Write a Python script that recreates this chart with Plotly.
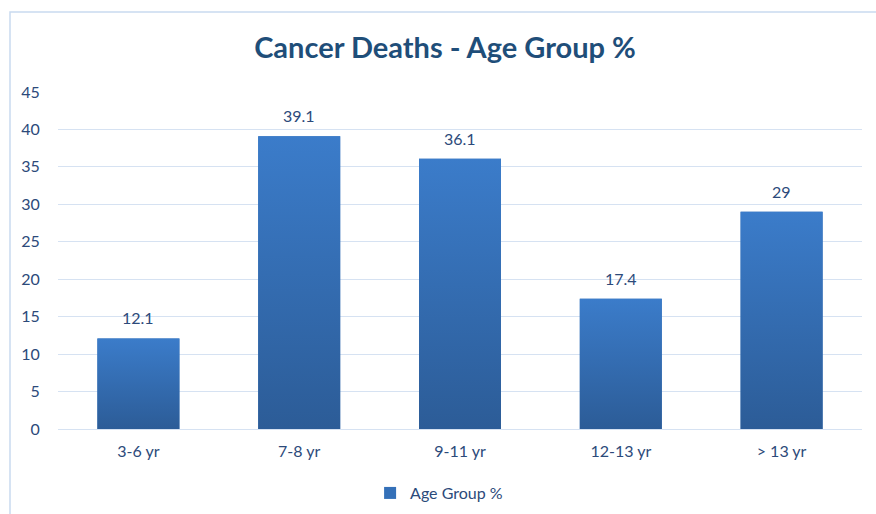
import plotly.graph_objects as go

categories = ["3-6 yr", "7-8 yr", "9-11 yr", "12-13 yr", "> 13 yr"]
values = [12.1, 39.1, 36.1, 17.4, 29]
tick_vals = [0, 5, 10, 15, 20, 25, 30, 35, 40, 45]

TXT = "#2c4a7a"
FONT = "Lato, Open Sans, sans-serif"
TOP_C = "#3b7cca"
BOT_C = "#2c5c97"
HALF_W = 0.255

fig = go.Figure()
fig.add_trace(go.Bar(
    x=list(range(len(categories))), y=values, name="Age Group %",
    marker=dict(color="#3470b8", line=dict(width=0)),
    cliponaxis=False,
))
# gradient overlay on each bar
for i, v in enumerate(values):
    fig.add_trace(go.Scatter(
        x=[i - HALF_W, i + HALF_W, i + HALF_W, i - HALF_W, i - HALF_W],
        y=[0, 0, v, v, 0], mode="lines", fill="toself", line=dict(width=0),
        fillgradient=dict(type="vertical", start=0, stop=v,
                          colorscale=[[0, BOT_C], [1, TOP_C]]),
        showlegend=False, hoverinfo="skip",
    ))
    fig.add_annotation(x=i, y=v, text=f"{v:g}", showarrow=False, yanchor="bottom", yshift=9,
                       font=dict(color=TXT, size=16, family=FONT))

fig.update_layout(
    width=876, height=514,
    margin=dict(l=58, r=14, t=92, b=85, autoexpand=False),
    paper_bgcolor="white", plot_bgcolor="white",
    title=dict(text="<b>Cancer Deaths - Age Group %</b>", x=0.508, xanchor="center",
               y=1 - 48 / 514, yanchor="middle", yref="container",
               font=dict(size=29, color="#1f4e79", family=FONT)),
    bargap=0.49,
    showlegend=True,
    legend=dict(orientation="h", x=0.474, xanchor="center", y=-0.19, yanchor="middle",
                font=dict(size=16, color=TXT, family=FONT), itemwidth=30),
    xaxis=dict(range=[-0.5, len(categories) - 0.5], tickvals=list(range(len(categories))),
               ticktext=categories, showgrid=False, showline=False, zeroline=False,
               ticks="outside", ticklen=8, tickcolor="rgba(0,0,0,0)",
               tickfont=dict(size=16, color=TXT, family=FONT)),
    yaxis=dict(range=[0, 45], tickvals=tick_vals, showgrid=True, gridcolor="#d6e2f2", gridwidth=1,
               zeroline=True, zerolinecolor="#d6e2f2", zerolinewidth=1,
               ticks="outside", ticklen=14, tickcolor="rgba(0,0,0,0)",
               tickfont=dict(size=16, color=TXT, family=FONT)),
    shapes=[dict(type="rect", xref="paper", yref="paper",
                 x0=(10 - 58) / 804, x1=1.2, y0=-0.5, y1=(429 - 12) / 337,
                 line=dict(color="#c9daf0", width=1.5), fillcolor="rgba(0,0,0,0)", layer="below")],
)

fig.write_html("out.html")
